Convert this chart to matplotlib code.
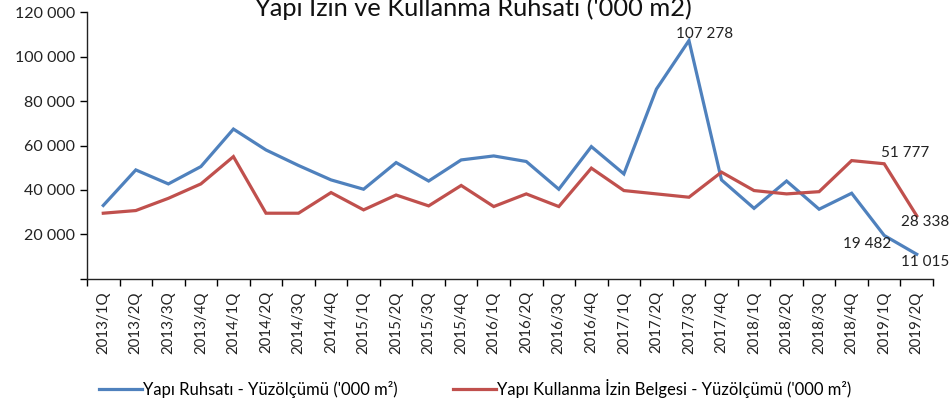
import matplotlib
matplotlib.use("Agg")
import matplotlib.pyplot as plt
from matplotlib.ticker import FuncFormatter, MultipleLocator
import numpy as np

plt.rcParams['font.family'] = ['Lato', 'DejaVu Sans']

quarters = ['2013/1Q', '2013/2Q', '2013/3Q', '2013/4Q',
            '2014/1Q', '2014/2Q', '2014/3Q', '2014/4Q',
            '2015/1Q', '2015/2Q', '2015/3Q', '2015/4Q',
            '2016/1Q', '2016/2Q', '2016/3Q', '2016/4Q',
            '2017/1Q', '2017/2Q', '2017/3Q', '2017/4Q',
            '2018/1Q', '2018/2Q', '2018/3Q', '2018/4Q',
            '2019/1Q', '2019/2Q']

ruhsat = [33000, 49000, 42700, 50500, 67400, 58000, 51000, 44500,
          40300, 52300, 44000, 53500, 55300, 52800, 40300, 59500,
          47200, 85400, 107278, 44500, 31700, 44000, 31300, 38500,
          19482, 11015]

kullanma = [29500, 30700, 36200, 42700, 55000, 29500, 29500, 38800,
            31000, 37700, 32800, 42000, 32500, 38200, 32500, 49800,
            39700, 38200, 36700, 48000, 39700, 38200, 39200, 53200,
            51777, 28338]

label_ruhsat = "Yapı Ruhsatı - Yüzölçümü ('000 m²)"
label_kullanma = "Yapı Kullanma İzin Belgesi - Yüzölçümü ('000 m²)"
title = "Yapı İzin ve Kullanma Ruhsatı ('000 m2)"

blue = '#4F81BD'
red = '#C0504D'

fig = plt.figure(figsize=(9.52, 4.03), dpi=100)
ax = fig.add_axes([87 / 952, 1 - 278.7 / 403, 846 / 952, 266.4 / 403])

x = np.arange(len(quarters))
ax.plot(x, ruhsat, color=blue, lw=2.3, label=label_ruhsat, solid_joinstyle='miter')
ax.plot(x, kullanma, color=red, lw=2.3, label=label_kullanma, solid_joinstyle='miter')

ax.set_xlim(-0.5, len(quarters) - 0.5)
ax.set_ylim(0, 120000)

ax.yaxis.set_major_locator(MultipleLocator(20000))
ax.yaxis.set_major_formatter(FuncFormatter(
    lambda v, p: '' if v == 0 else f'{int(v):,}'.replace(',', ' ')))

ax.set_xticks(x)
ax.set_xticklabels(quarters, rotation=90, fontsize=10.8, color='#222222')
ax.set_xticks(np.arange(-0.5, len(quarters)), minor=True)
ax.tick_params(axis='x', which='major', length=0, pad=9)
ax.tick_params(axis='x', which='minor', length=5, width=1, direction='out')
ax.tick_params(axis='y', length=5, width=1, direction='out', labelsize=11.5,
               labelcolor='#222222')

for s in ['top', 'right']:
    ax.spines[s].set_visible(False)
for s in ['left', 'bottom']:
    ax.spines[s].set_linewidth(1)
    ax.spines[s].set_color('#222222')

# data labels (offsets in pixels)
lab_kw = dict(fontsize=11, color='#222222', textcoords='offset pixels')
i = quarters.index('2017/3Q')
ax.annotate('107 278', (x[i], ruhsat[i]), xytext=(-13, 7),
            ha='left', va='center', **lab_kw)
ax.annotate('51 777', (x[24], kullanma[24]), xytext=(-3, 11),
            ha='left', va='center', **lab_kw)
ax.annotate('28 338', (x[25], kullanma[25]), xytext=(-16, -6),
            ha='left', va='center', **lab_kw)
ax.annotate('19 482', (x[24], ruhsat[24]), xytext=(7, -9),
            ha='right', va='center', **lab_kw)
ax.annotate('11 015', (x[25], ruhsat[25]), xytext=(-16, -8),
            ha='left', va='center', **lab_kw)

fig.text(473 / 952, 1 - 16 / 403, title, ha='center', va='baseline',
         fontsize=18.3, color='#111111')

fig.legend(loc='center left', bbox_to_anchor=(99 / 952, 1 - 388 / 403), ncol=2,
           frameon=False, fontsize=12, handlelength=2.6, handletextpad=0.05,
           columnspacing=3.3, borderaxespad=0, borderpad=0)

plt.savefig('out.png', dpi=100)
